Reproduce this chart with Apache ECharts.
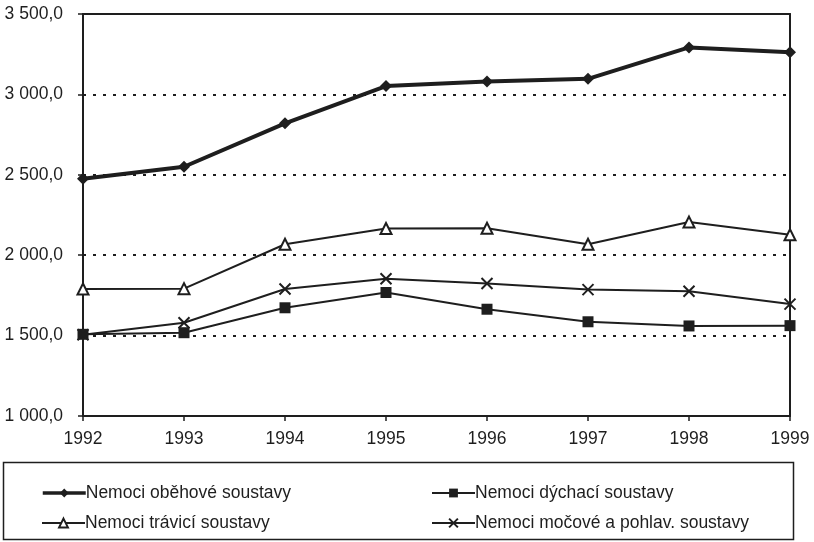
<!DOCTYPE html>
<html>
<head>
<meta charset="utf-8">
<script src="https://cdn.jsdelivr.net/npm/echarts@6/dist/echarts.min.js"></script>
<style>
  html, body { margin: 0; padding: 0; background: #fff; }
  #chart { width: 814px; height: 542px; }
</style>
</head>
<body>
<div id="chart"></div>
<script>
const years = ["1992", "1993", "1994", "1995", "1996", "1997", "1998", "1999"];
const obehove = [2475, 2550, 2820, 3052, 3080, 3097, 3292, 3262];
const dychaci = [1508, 1518, 1673, 1768, 1664, 1586, 1560, 1562];
const travici = [1790, 1792, 2068, 2166, 2168, 2068, 2206, 2127];
const mocove = [1505, 1580, 1790, 1854, 1824, 1786, 1776, 1696];
const names = [
  "Nemoci oběhové soustavy",
  "Nemoci dýchací soustavy",
  "Nemoci trávicí soustavy",
  "Nemoci močové a pohlav. soustavy"
];

const ink = "#1e1e1e";
const font = "Liberation Sans";

const fmt = (v) => {
  const s = Math.round(v).toString();
  const t = s.length > 3 ? s.slice(0, -3) + " " + s.slice(-3) : s;
  return t + ",0";
};

const lineSeries = (name, data, symbol, size, width, extra = {}) => ({
  name: name,
  type: "line",
  data: data,
  symbol: symbol,
  symbolSize: size,
  showAllSymbol: true,
  lineStyle: { color: ink, width: width },
  itemStyle: Object.assign({ color: ink, borderColor: ink, borderWidth: 0 }, extra),
  emphasis: { disabled: true },
  z: 5
});

const legendAt = (name, left, top, lw) => ({
  data: [name],
  left: left,
  top: top,
  itemWidth: 43,
  itemHeight: 11,
  lineStyle: { width: lw },
  textStyle: { fontFamily: font, fontSize: 17.5, color: ink, padding: [0, 0, 0, -5] },
  selectedMode: false
});

// top and right edges of the plot frame
const frameAxis = {
  z: 3,
  axisLine: { show: true, onZero: false, lineStyle: { color: ink, width: 2 } },
  axisTick: { show: false },
  axisLabel: { show: false },
  splitLine: { show: false }
};

const chart = echarts.init(document.getElementById("chart"));
chart.setOption({
  backgroundColor: "#fff",
  animation: false,
  grid: { left: 83, right: 24, top: 14, bottom: 126 },
  xAxis: [{
    type: "category",
    data: years,
    boundaryGap: false,
    axisLine: { lineStyle: { color: ink, width: 2 } },
    axisTick: { alignWithLabel: true, length: 5, lineStyle: { color: ink, width: 1.5 } },
    axisLabel: { color: ink, fontFamily: font, fontSize: 17.5, margin: 14 },
    splitLine: { show: false }
  }, Object.assign({ type: "category", data: years, boundaryGap: false, position: "top" }, frameAxis)],
  yAxis: [{
    type: "value",
    min: 1000,
    max: 3500,
    interval: 500,
    axisLine: { show: true, lineStyle: { color: ink, width: 2 } },
    axisTick: { show: true, length: 5, lineStyle: { color: ink, width: 1.5 } },
    axisLabel: { color: ink, fontFamily: font, fontSize: 17.5, margin: 20, formatter: fmt },
    splitLine: { lineStyle: { color: ink, width: 1.8, type: [3, 7] } }
  }, Object.assign({ type: "value", min: 1000, max: 3500, interval: 500, position: "right" }, frameAxis)],
  legend: [
    legendAt(names[0], 36, 479, 3.5),
    legendAt(names[1], 426, 479, 2),
    legendAt(names[2], 36, 509, 2),
    legendAt(names[3], 426, 509, 2)
  ],
  graphic: [{
    type: "rect",
    shape: { x: 3.5, y: 462.5, width: 790, height: 77 },
    style: { fill: "none", stroke: ink, lineWidth: 1.5 },
    silent: true
  }],
  series: [
    lineSeries(names[0], obehove, "diamond", 12, 4),
    lineSeries(names[1], dychaci, "rect", 11, 2),
    lineSeries(names[2], travici, "emptyTriangle", 11, 2,
      { color: ink, borderColor: ink, borderWidth: 1.5 }),
    lineSeries(names[3], mocove, "path://M0,0L10,10M10,0L0,10", 11, 2,
      { color: "none", borderColor: ink, borderWidth: 2 })
  ]
});
</script>
</body>
</html>
